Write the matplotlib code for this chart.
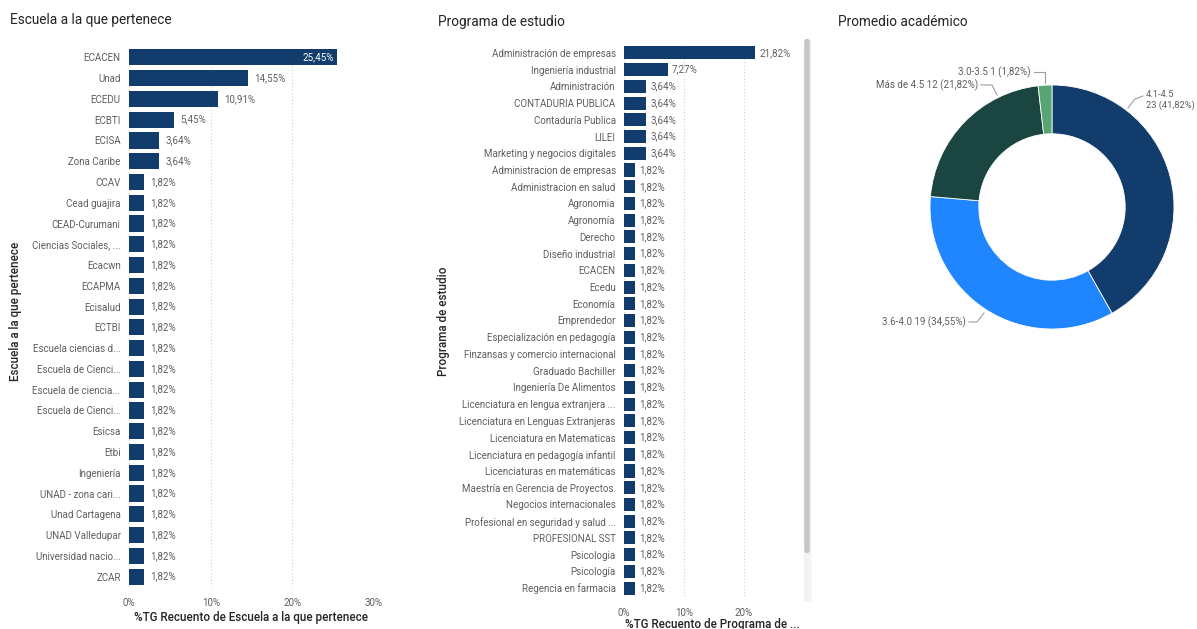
import matplotlib.pyplot as plt
from matplotlib.patches import FancyBboxPatch, Rectangle

# Escuela a la que pertenece
escuelas = ['ECACEN', 'Unad', 'ECEDU', 'ECBTI', 'ECISA', 'Zona Caribe', 'CCAV',
            'Cead guajira', 'CEAD-Curumani', 'Ciencias Sociales, ...', 'Ecacwn',
            'ECAPMA', 'Ecisalud', 'ECTBI', 'Escuela ciencias d...',
            'Escuela de Cienci...', 'Escuela de ciencia...', 'Escuela de Cienci...',
            'Esicsa', 'Etbi', 'Ingeniería', 'UNAD - zona cari...', 'Unad Cartagena',
            'UNAD Valledupar', 'Universidad nacio...', 'ZCAR']
escuelas_pct = [25.45, 14.55, 10.91, 5.45, 3.64, 3.64] + [1.82] * 20

# Programa de estudio (first rows visible in the scroll area)
programas = ['Administración de empresas', 'Ingeniería industrial', 'Administración',
             'CONTADURIA PUBLICA', 'Contaduría Publica', 'LILEI',
             'Marketing y negocios digitales', 'Administracion de empresas',
             'Administracion en salud', 'Agronomia', 'Agronomía', 'Derecho',
             'Diseño industrial', 'ECACEN', 'Ecedu', 'Economía', 'Emprendedor',
             'Especialización en pedagogía', 'Finzansas y comercio internacional',
             'Graduado Bachiller', 'Ingeniería De Alimentos',
             'Licenciatura en lengua extranjera ...',
             'Licenciatura en Lenguas Extranjeras', 'Licenciatura en Matematicas',
             'Licenciatura en pedagogía infantil', 'Licenciaturas en matemáticas',
             'Maestría en Gerencia de Proyectos.', 'Negocios internacionales',
             'Profesional en seguridad y salud ...', 'PROFESIONAL SST', 'Psicologia',
             'Psicología', 'Regencia en farmacia']
programas_pct = [21.82, 7.27, 3.64, 3.64, 3.64, 3.64, 3.64] + [1.82] * 26

# Promedio académico
promedio_cat = ['4.1-4.5', '3.6-4.0', 'Más de 4.5', '3.0-3.5']
promedio_n = [23, 19, 12, 1]
promedio_pct = ['41,82%', '34,55%', '21,82%', '1,82%']

NAVY = '#123C6B'
GRAY = '#605E5C'
DARK = '#252423'
GRID = '#D2D0CE'
FONT = 'Roboto'

plt.rcParams['font.family'] = [FONT, 'DejaVu Sans']

W, H = 1197, 629
fig = plt.figure(figsize=(W / 100, H / 100), dpi=100)


def px_axes(x0, y0, x1, y1):
    return fig.add_axes([x0 / W, 1 - y1 / H, (x1 - x0) / W, (y1 - y0) / H])


def bar_panel(ax, labels, values, xmax, ticks, inside_first):
    y = range(len(labels))
    ax.barh(y, values, height=0.78, color=NAVY, zorder=3)
    ax.set_ylim(len(labels) - 0.5, -0.5)
    ax.set_xlim(0, xmax)
    ax.set_yticks(list(y))
    ax.set_yticklabels(labels, fontsize=7, color=GRAY)
    ax.set_xticks(ticks)
    ax.set_xticklabels([f'{t}%' for t in ticks], fontsize=7, color=GRAY)
    ax.tick_params(length=0, pad=6)
    ax.tick_params(axis='x', pad=8)
    for s in ax.spines.values():
        s.set_visible(False)
    ax.grid(axis='x', linestyle=(0, (1, 2)), color=GRID, linewidth=0.8, zorder=0)
    ax.set_axisbelow(True)
    for i, v in enumerate(values):
        txt = f'{v:.2f}%'.replace('.', ',')
        if i == 0 and inside_first:
            ax.text(v - 0.4, i, txt, ha='right', va='center', fontsize=7,
                    color='white', zorder=4)
        else:
            ax.text(v + 0.8 * xmax / 30, i, txt, ha='left', va='center',
                    fontsize=7, color=GRAY, zorder=4)


# Left panel
ax1 = px_axes(129, 47, 374, 587)
bar_panel(ax1, escuelas, escuelas_pct, 30, [0, 10, 20, 30], True)
fig.text(10 / W, 1 - 20 / H, 'Escuela a la que pertenece', fontsize=9.8,
         color=DARK, va='center', ha='left')
fig.text(16 / W, 1 - 311 / H, 'Escuela a la que pertenece', fontsize=8.4,
         color=DARK, rotation=90, va='center', ha='center', fontweight='medium')
fig.text(251 / W, 1 - 618 / H, '%TG Recuento de Escuela a la que pertenece',
         fontsize=8.4, color=DARK, va='center', ha='center', fontweight='medium')

# Middle panel
ax2 = px_axes(624, 44.6, 792, 596.4)
bar_panel(ax2, programas, programas_pct, 28, [0, 10, 20], False)
fig.text(438 / W, 1 - 22 / H, 'Programa de estudio', fontsize=9.8,
         color=DARK, va='center', ha='left')
fig.text(444 / W, 1 - 321 / H, 'Programa de estudio', fontsize=8.4,
         color=DARK, rotation=90, va='center', ha='center', fontweight='medium')
fig.text(712 / W, 1 - 618 / H, '%TG Recuento de Programa de ...',
         fontsize=8.4, color=DARK, va='top', ha='center', fontweight='medium')

# scrollbar
fig.patches.append(Rectangle((804 / W, 1 - 600 / H), 6 / W, 560 / H,
                             transform=fig.transFigure, color='#F3F2F1', zorder=0))
fig.patches.append(FancyBboxPatch((805 / W, 1 - 552 / H), 4 / W, 512 / H,
                                  boxstyle='round,pad=0,rounding_size=0.003',
                                  transform=fig.transFigure, color='#C8C6C4', zorder=1))

# Donut
ax3 = px_axes(902, 57, 1202, 357)
colors = ['#123C6B', '#1F86FF', '#1B4540', '#57A573']
ax3.pie(promedio_n, colors=colors, startangle=90, counterclock=False,
        wedgeprops=dict(width=0.4, edgecolor='white', linewidth=0.6), radius=1)
ax3.set_xlim(-150 / 122, 150 / 122)
ax3.set_ylim(-150 / 122, 150 / 122)
ax3.set_aspect('equal')
ax3.axis('off')
fig.text(838 / W, 1 - 22 / H, 'Promedio académico', fontsize=9.8,
         color=DARK, va='center', ha='left')


def p(px, py):
    return ((px - 1052) / 122, (207 - py) / 122)


lab = dict(fontsize=7, color=GRAY, clip_on=False)
lc = dict(color='#A19F9D', linewidth=0.8, clip_on=False)
# 4.1-4.5
ax3.text(*p(1146, 100), f'{promedio_cat[0]}\n{promedio_n[0]} ({promedio_pct[0]})',
         ha='left', va='center', linespacing=1.3, fontsize=6.7, color=GRAY,
         clip_on=False)
ax3.plot(*zip(p(1128, 108), p(1135, 99), p(1143, 96)), **lc)
# 3.6-4.0
ax3.text(*p(966, 322), f'{promedio_cat[1]} {promedio_n[1]} ({promedio_pct[1]})',
         ha='right', va='center', **lab)
ax3.plot(*zip(p(969, 322), p(977, 322), p(984, 313)), **lc)
# Más de 4.5
ax3.text(*p(978, 85), f'{promedio_cat[2]} {promedio_n[2]} ({promedio_pct[2]})',
         ha='right', va='center', **lab)
ax3.plot(*zip(p(981, 85), p(992, 85), p(997, 95)), **lc)
# 3.0-3.5
ax3.text(*p(1031, 72), f'{promedio_cat[3]} {promedio_n[3]} ({promedio_pct[3]})',
         ha='right', va='center', **lab)
ax3.plot(*zip(p(1034, 72), p(1045, 72), p(1045, 83)), **lc)

fig.savefig('out.png', dpi=100, facecolor='white')
